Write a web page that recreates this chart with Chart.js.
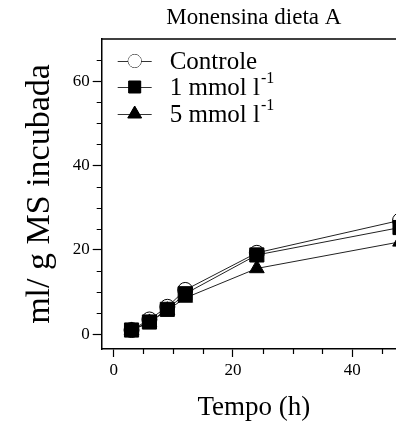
<!DOCTYPE html>
<html><head><meta charset="utf-8">
<script src="https://cdn.jsdelivr.net/npm/chart.js@4.4.0/dist/chart.umd.min.js"></script>
<style>
html,body{margin:0;padding:0;background:#fff;overflow:hidden;}
#wrap{width:396px;height:430px;overflow:hidden;position:relative;background:#fff;}
canvas{display:block;}
</style></head><body>
<div id="wrap"><canvas id="c" width="420" height="430"></canvas></div>
<script>
// ---- data ----
const times = [3, 6, 9, 12, 24, 48];
const controle = [1.0, 3.5, 6.5, 10.5, 19.3, 27.0];
const mmol1 = [1.0, 2.9, 5.9, 9.6, 18.8, 25.3];
const mmol5 = [0.9, 2.8, 5.7, 8.6, 15.6, 21.9];
const seriesNames = ['Controle', '1 mmol l', '5 mmol l'];
const seriesSup = ['', '-1', '-1'];
const xMajorTicks = [0, 20, 40];
const yMajorTicks = [0, 20, 40, 60];
const xMinorTicks = [5, 10, 15, 25, 30, 35, 45];
const yMinorTicks = [5, 10, 15, 25, 30, 35, 45, 50, 55, 65];
const titleText = 'Monensina dieta A';
const xTitle = 'Tempo (h)';
const yTitle = 'ml/ g MS incubada';

const FONT = "'Liberation Serif', 'Times New Roman', serif";
const INK = '#000';

const pts = (xs, ys) => xs.map((x, i) => ({x, y: ys[i]}));

const styles = [
  {pointStyle: 'circle', radius: 7.5, bg: '#fff'},
  {pointStyle: 'rect', radius: 10, bg: '#000'},
  {pointStyle: 'triangle', radius: 8.5, bg: '#000'}
];

const frameAndTicks = {
  id: 'frameAndTicks',
  afterDraw(chart) {
    const {ctx, chartArea: a, scales: {x, y}} = chart;
    ctx.save();
    ctx.strokeStyle = INK;
    ctx.lineWidth = 1.5;
    ctx.beginPath();
    ctx.moveTo(a.left, a.top);
    ctx.lineTo(a.right + 5, a.top);
    ctx.stroke();
    ctx.lineWidth = 1.2;
    ctx.beginPath();
    yMinorTicks.forEach(v => {
      const py = Math.round(y.getPixelForValue(v)) + 0.5;
      ctx.moveTo(a.left - 5, py); ctx.lineTo(a.left, py);
    });
    xMinorTicks.forEach(v => {
      const px = Math.round(x.getPixelForValue(v)) + 0.5;
      ctx.moveTo(px, a.bottom); ctx.lineTo(px, a.bottom + 5);
    });
    ctx.stroke();
    ctx.restore();
  }
};

function drawMarker(ctx, style, cx, cy, r) {
  Chart.helpers.drawPoint(ctx, {pointStyle: style.pointStyle, radius: r, borderWidth: 1, rotation: 0}, cx, cy);
}

const legendPlugin = {
  id: 'customLegend',
  afterDraw(chart) {
    const {ctx, chartArea: a} = chart;
    const rows = [a.top + 22, a.top + 48, a.top + 75];
    const radii = [6.5, 8.5, 8];
    ctx.save();
    seriesNames.forEach((name, i) => {
      const cy = rows[i];
      ctx.strokeStyle = '#333';
      ctx.lineWidth = 1;
      ctx.beginPath();
      ctx.moveTo(a.left + 16, cy + 0.5); ctx.lineTo(a.left + 50, cy + 0.5);
      ctx.stroke();
      ctx.fillStyle = styles[i].bg;
      ctx.strokeStyle = INK;
      drawMarker(ctx, styles[i], a.left + 33, cy, radii[i]);
      ctx.fill();
      ctx.fillStyle = INK;
      ctx.textBaseline = 'middle';
      ctx.textAlign = 'left';
      ctx.font = "25px " + FONT;
      const tx = a.left + 68;
      ctx.fillText(name, tx, cy + 1);
      if (seriesSup[i]) {
        const w = ctx.measureText(name).width;
        ctx.font = "16px " + FONT;
        ctx.fillText(seriesSup[i], tx + w + 1, cy - 8);
      }
    });
    ctx.restore();
  }
};

const mk = (label, data, i, order) => ({
  label, data: pts(times, data), order,
  borderColor: '#222', borderWidth: 1,
  pointStyle: styles[i].pointStyle, pointRadius: styles[i].radius,
  pointBackgroundColor: styles[i].bg, pointBorderColor: INK, pointBorderWidth: 1,
  showLine: true, tension: 0, clip: false
});

new Chart(document.getElementById('c'), {
  type: 'scatter',
  data: {
    datasets: [
      mk(seriesNames[0], controle, 0, 2),
      mk(seriesNames[1], mmol1, 1, 0),
      mk(seriesNames[2], mmol5, 2, 1)
    ]
  },
  options: {
    responsive: false,
    devicePixelRatio: 1,
    animation: false,
    events: [],
    layout: {padding: {left: 0, right: 14, top: 0, bottom: 0}},
    plugins: {
      legend: {display: false},
      tooltip: {enabled: false},
      title: {
        display: true, text: titleText, fullSize: false, color: INK,
        font: {family: FONT, size: 23, weight: 'normal', lineHeight: 1.2},
        padding: {top: 4, bottom: 7.4}
      }
    },
    scales: {
      x: {
        type: 'linear', min: -2, max: 49,
        afterFit: s => { s.height = 81; },
        afterBuildTicks: s => { s.ticks = xMajorTicks.map(v => ({value: v})); },
        ticks: {color: INK, padding: 3, font: {family: FONT, size: 17}, maxRotation: 0},
        grid: {display: true, drawOnChartArea: false, drawTicks: true, tickLength: 8, color: INK, tickWidth: 1.2},
        border: {display: true, color: INK, width: 1.5},
        title: {display: true, text: xTitle, color: INK, font: {family: FONT, size: 27}, padding: {top: 0, bottom: 6}}
      },
      y: {
        type: 'linear', min: -3.5, max: 70,
        afterFit: s => { s.width = 101.7; },
        afterBuildTicks: s => { s.ticks = yMajorTicks.map(v => ({value: v})); },
        ticks: {color: INK, padding: 3, font: {family: FONT, size: 17}},
        grid: {display: true, drawOnChartArea: false, drawTicks: true, tickLength: 9, color: INK, tickWidth: 1.2},
        border: {display: true, color: INK, width: 1.5},
        title: {display: true, text: yTitle, color: INK, font: {family: FONT, size: 34}, padding: {top: 20, bottom: 0}}
      }
    }
  },
  plugins: [frameAndTicks, legendPlugin]
});
</script>
</body></html>
